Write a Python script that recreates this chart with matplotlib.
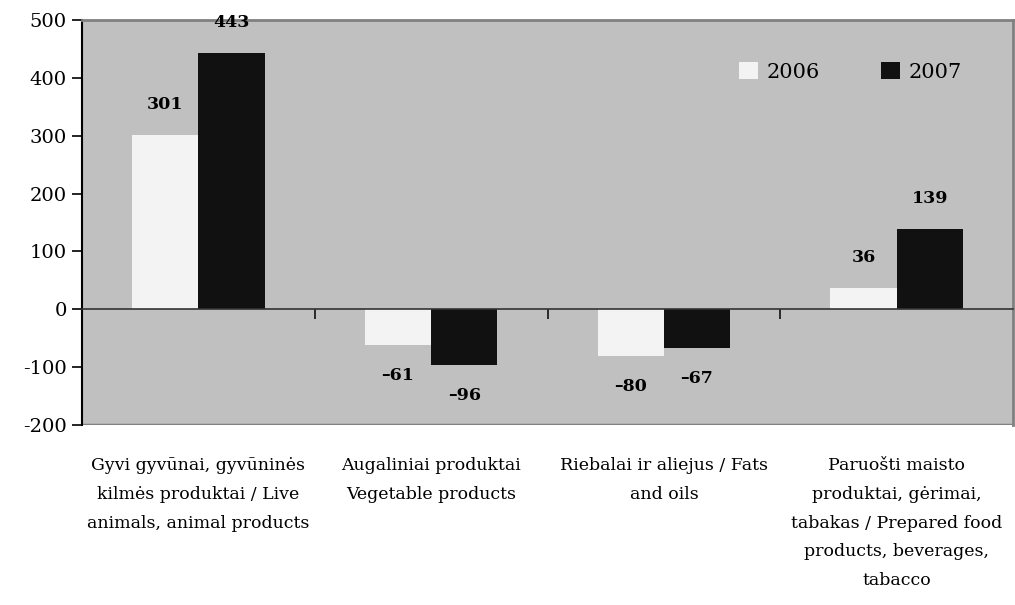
import matplotlib.pyplot as plt
import numpy as np
from matplotlib.transforms import blended_transform_factory

# data
categories = ['Gyvi gyvūnai, gyvūninės\nkilmės produktai / Live\nanimals, animal products',
              'Augaliniai produktai\nVegetable products',
              'Riebalai ir aliejus / Fats\nand oils',
              'Paruošti maisto\nproduktai, gėrimai,\ntabakas / Prepared food\nproducts, beverages,\ntabacco']
v2006 = [301, -61, -80, 36]
v2007 = [443, -96, -67, 139]
years = ['2006', '2007']

plt.rcParams['font.family'] = ['DejaVu Serif']
plt.rcParams['axes.unicode_minus'] = False

fig = plt.figure(figsize=(10.15, 6.05), dpi=100)
ax = fig.add_axes([82/1015, 1-425/605, (1013-82)/1015, (425-20)/605])
ax.set_facecolor('#c0c0c0')

x = np.arange(len(categories))
w = 0.285
b1 = ax.bar(x - w/2, v2006, w, color='#f3f3f3', edgecolor='none', label=years[0], zorder=2)
b2 = ax.bar(x + w/2, v2007, w, color='#111111', edgecolor='none', label=years[1], zorder=2)

for bars, vals in ((b1, v2006), (b2, v2007)):
    for r, v in zip(bars, vals):
        off = 22 if v >= 0 else -22
        ax.annotate(str(v).replace('-', '–'), (r.get_x() + r.get_width()/2, v),
                    xytext=(0, off), textcoords='offset points',
                    ha='center', va='center', fontsize=12.5, fontweight='bold', zorder=3)

ax.set_xlim(-0.5, len(categories) - 0.5)
ax.set_ylim(-200, 500)
ax.set_yticks(range(-200, 501, 100))
ax.tick_params(axis='y', direction='out', length=7, width=1.2, colors='black', pad=4, labelsize=14)

# zero line with category separators
ax.spines['bottom'].set_position(('data', 0))
ax.spines['bottom'].set_color('#333333')
ax.spines['bottom'].set_linewidth(1.2)
ax.set_xticks(np.arange(0.5, len(categories) - 1, 1))
ax.set_xticklabels([])
ax.tick_params(axis='x', direction='out', length=7, width=1.2, colors='#111111')
ax.spines['left'].set_linewidth(1.5)
ax.spines['left'].set_color('black')
for s in ('top', 'right'):
    ax.spines[s].set_color('#808080')
    ax.spines[s].set_linewidth(2)
ax.axhline(-200, color='#808080', lw=2.5, zorder=1)

tr = blended_transform_factory(ax.transData, ax.transAxes)
for i, c in enumerate(categories):
    ax.text(i, -0.08, c, transform=tr, ha='center', va='top', fontsize=12.5, linespacing=1.9)

ax.legend(loc='center left', bbox_to_anchor=(0.697, 0.872), ncol=2, frameon=False,
          fontsize=15, handlelength=0.9, handleheight=0.9, handletextpad=0.4,
          columnspacing=2.95, borderaxespad=0)

fig.savefig('out.png', dpi=100)
